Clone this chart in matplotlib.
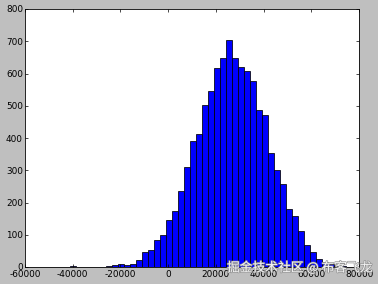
import numpy as np
import matplotlib
matplotlib.use('Agg')
import matplotlib.pyplot as plt
import matplotlib.patheffects as pe

plt.rcParams['font.family'] = ['DejaVu Sans']
plt.rcParams['axes.unicode_minus'] = False

# histogram: 50 bins between x_min and x_max
x_min = -46000
x_max = 79500
counts = [1, 0, 2, 1, 0, 1, 1, 1, 2, 5,
          10, 6, 10, 22, 48, 52, 85, 100, 145, 175,
          237, 311, 390, 411, 501, 547, 616, 647, 703, 647,
          619, 608, 578, 488, 472, 352, 300, 256, 181, 158,
          111, 68, 46, 24, 15, 8, 4, 2, 1, 1]

edges = np.linspace(x_min, x_max, len(counts) + 1)
centers = (edges[:-1] + edges[1:]) / 2

fig = plt.figure(figsize=(3.78, 2.84), dpi=100, facecolor='0.75')
ax = fig.add_axes([25/378, 17/284, 334/378, 258/284])
ax.set_facecolor('white')

ax.hist(centers, bins=edges, weights=counts, color='blue', edgecolor='black', linewidth=0.55)

ax.set_xlim(-60000, 80000)
ax.set_ylim(0, 800)
ax.set_xticks(range(-60000, 80001, 20000))
ax.set_yticks(range(0, 801, 100))
ax.tick_params(direction='in', top=True, right=True, length=2.4, width=0.5,
               labelsize=6.4, pad=1.5, colors='black')
ax.tick_params(axis='x', pad=2.5)
for s in ax.spines.values():
    s.set_linewidth(0.6)

# watermark
fig.text(0.985, 0.058, '掘金技术社区 @ 布客飞龙', ha='right', va='center', fontsize=9.2,
         color='white', alpha=0.9, family=['Noto Sans CJK SC', 'DejaVu Sans'],
         path_effects=[pe.withStroke(linewidth=1.0, foreground='0.55')])

fig.savefig('out.png', dpi=100, facecolor=fig.get_facecolor())
